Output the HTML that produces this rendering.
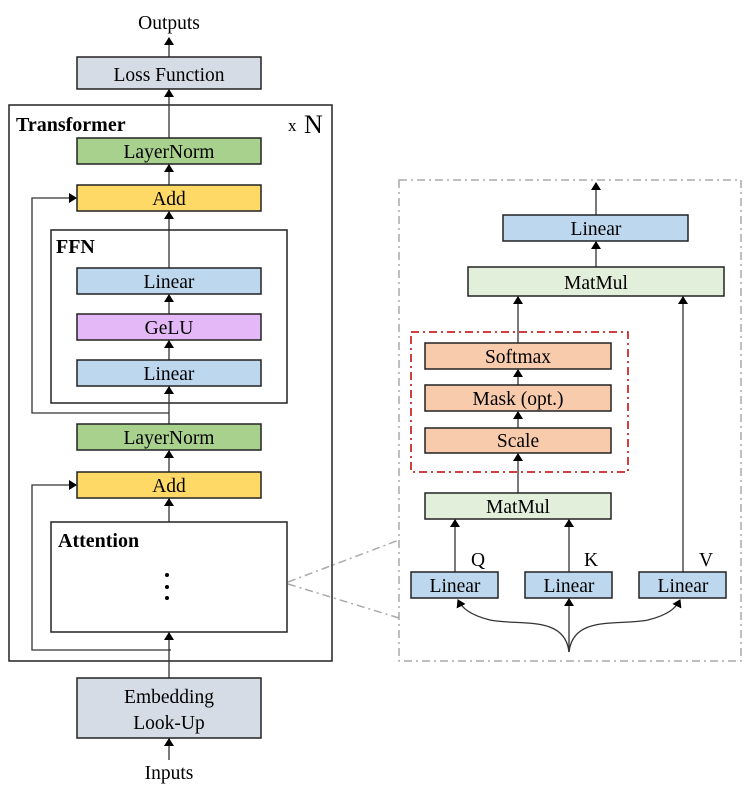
<!DOCTYPE html>
<html><head><meta charset="utf-8"><style>
html,body{margin:0;padding:0;background:#fff}
svg{display:block}
text{font-family:"Liberation Serif",serif;fill:#000}
.b{stroke:#222;stroke-width:1.5}
.l{stroke:#333;stroke-width:1.3;fill:none}
</style></head><body>
<svg width="752" height="788" viewBox="0 0 752 788" xmlns="http://www.w3.org/2000/svg" style="font-size:19.5px">
<defs><marker id="a" markerWidth="8" markerHeight="10" refX="7" refY="5" orient="auto" markerUnits="userSpaceOnUse"><path d="M0,0 L8,5 L0,10 z" fill="#000"/></marker></defs>

<text x="169" y="29" text-anchor="middle">Outputs</text>
<line class="l" x1="169" y1="57" x2="169" y2="38" marker-end="url(#a)"/>
<rect x="77" y="57" width="184" height="32" fill="#d6dce5" class="b"/>
<text x="169" y="81" text-anchor="middle">Loss Function</text>

<rect x="9" y="105" width="323" height="556" class="b" fill="none"/>
<text x="16" y="131" style="font-weight:bold;font-size:20px">Transformer</text>
<text x="288" y="131" style="font-size:17px">x</text><text x="304" y="133" style="font-size:26px">N</text>
<line class="l" x1="169" y1="138" x2="169" y2="90" marker-end="url(#a)"/>

<rect x="77" y="138" width="184" height="26" fill="#a9d18e" class="b"/>
<text x="169" y="158" text-anchor="middle">LayerNorm</text>
<line class="l" x1="169" y1="185" x2="169" y2="165" marker-end="url(#a)"/>
<rect x="77" y="185" width="184" height="26" fill="#ffd966" class="b"/>
<text x="169" y="205" text-anchor="middle">Add</text>
<line class="l" x1="169" y1="268" x2="169" y2="212" marker-end="url(#a)"/>

<rect x="51" y="230" width="236" height="173" class="b" fill="none"/>
<text x="56" y="253" style="font-weight:bold;font-size:20px">FFN</text>
<rect x="77" y="268" width="184" height="26" fill="#bdd7ee" class="b"/>
<text x="169" y="288" text-anchor="middle">Linear</text>
<line class="l" x1="169" y1="314" x2="169" y2="295" marker-end="url(#a)"/>
<rect x="77" y="314" width="184" height="26" fill="#e4b8f7" class="b"/>
<text x="169" y="334" text-anchor="middle">GeLU</text>
<line class="l" x1="169" y1="360" x2="169" y2="341" marker-end="url(#a)"/>
<rect x="77" y="360" width="184" height="26" fill="#bdd7ee" class="b"/>
<text x="169" y="380" text-anchor="middle">Linear</text>
<line class="l" x1="169" y1="424" x2="169" y2="387" marker-end="url(#a)"/>
<polyline class="l" points="169,413 32,413 32,198 76,198" marker-end="url(#a)"/>

<rect x="77" y="424" width="184" height="26" fill="#a9d18e" class="b"/>
<text x="169" y="444" text-anchor="middle">LayerNorm</text>
<line class="l" x1="169" y1="472" x2="169" y2="451" marker-end="url(#a)"/>
<rect x="77" y="472" width="184" height="26" fill="#ffd966" class="b"/>
<text x="169" y="492" text-anchor="middle">Add</text>
<line class="l" x1="169" y1="522" x2="169" y2="499" marker-end="url(#a)"/>

<rect x="51" y="522" width="236" height="110" class="b" fill="#fff"/>
<text x="58" y="547" style="font-weight:bold;font-size:20px">Attention</text>
<circle cx="167" cy="575" r="2" fill="#000"/><circle cx="167" cy="587" r="2" fill="#000"/><circle cx="167" cy="598" r="2" fill="#000"/>
<line class="l" x1="169" y1="678" x2="169" y2="633" marker-end="url(#a)"/>
<polyline class="l" points="171,650 32,650 32,485 76,485" marker-end="url(#a)"/>

<rect x="77" y="678" width="184" height="60" fill="#d6dce5" class="b"/>
<text x="169" y="703" text-anchor="middle">Embedding</text>
<text x="169" y="729" text-anchor="middle">Look-Up</text>
<line class="l" x1="169" y1="760" x2="169" y2="739" marker-end="url(#a)"/>
<text x="169" y="779" text-anchor="middle">Inputs</text>

<g stroke="#aaa" stroke-width="1.5" stroke-dasharray="8,4,2,4" fill="none">
<line x1="288" y1="582" x2="399" y2="540"/>
<line x1="288" y1="584" x2="399" y2="618"/>
<rect x="399" y="180" width="342" height="481"/>
</g>

<line class="l" x1="596" y1="215" x2="596" y2="183" marker-end="url(#a)"/>
<rect x="503" y="215" width="185" height="26" fill="#bdd7ee" class="b"/>
<text x="596" y="235" text-anchor="middle">Linear</text>
<line class="l" x1="596" y1="267" x2="596" y2="242" marker-end="url(#a)"/>
<rect x="468" y="267" width="256" height="29" fill="#e2efda" class="b"/>
<text x="596" y="289" text-anchor="middle">MatMul</text>

<rect x="411" y="332" width="217" height="140" fill="none" stroke="#c00000" stroke-width="1.5" stroke-dasharray="8,4,2,4"/>
<line class="l" x1="518" y1="343" x2="518" y2="297" marker-end="url(#a)"/>
<rect x="425" y="343" width="186" height="26" fill="#f8cbad" class="b"/>
<text x="518" y="363" text-anchor="middle">Softmax</text>
<line class="l" x1="518" y1="385" x2="518" y2="370" marker-end="url(#a)"/>
<rect x="425" y="385" width="186" height="26" fill="#f8cbad" class="b"/>
<text x="518" y="405" text-anchor="middle">Mask (opt.)</text>
<line class="l" x1="518" y1="428" x2="518" y2="412" marker-end="url(#a)"/>
<rect x="425" y="428" width="186" height="25" fill="#f8cbad" class="b"/>
<text x="518" y="447" text-anchor="middle">Scale</text>
<line class="l" x1="518" y1="493" x2="518" y2="454" marker-end="url(#a)"/>
<rect x="425" y="493" width="186" height="26" fill="#e2efda" class="b"/>
<text x="518" y="513" text-anchor="middle">MatMul</text>

<line class="l" x1="455" y1="572" x2="455" y2="520" marker-end="url(#a)"/>
<line class="l" x1="569" y1="572" x2="569" y2="520" marker-end="url(#a)"/>
<line class="l" x1="683" y1="572" x2="683" y2="297" marker-end="url(#a)"/>
<text x="478" y="566" text-anchor="middle">Q</text>
<text x="591" y="566" text-anchor="middle">K</text>
<text x="706" y="566" text-anchor="middle">V</text>
<rect x="411" y="572" width="87" height="26" fill="#bdd7ee" class="b"/>
<text x="455" y="592" text-anchor="middle">Linear</text>
<rect x="525" y="572" width="87" height="26" fill="#bdd7ee" class="b"/>
<text x="569" y="592" text-anchor="middle">Linear</text>
<rect x="639" y="572" width="87" height="26" fill="#bdd7ee" class="b"/>
<text x="683" y="592" text-anchor="middle">Linear</text>

<line class="l" x1="569" y1="652" x2="569" y2="599" marker-end="url(#a)"/>
<path class="l" d="M569,652 C565,615 520,626 490,620 C470,615 462,608 458,600" marker-end="url(#a)"/>
<path class="l" d="M569,652 C573,615 618,626 648,620 C668,615 676,608 680,600" marker-end="url(#a)"/>
</svg>
</body></html>
